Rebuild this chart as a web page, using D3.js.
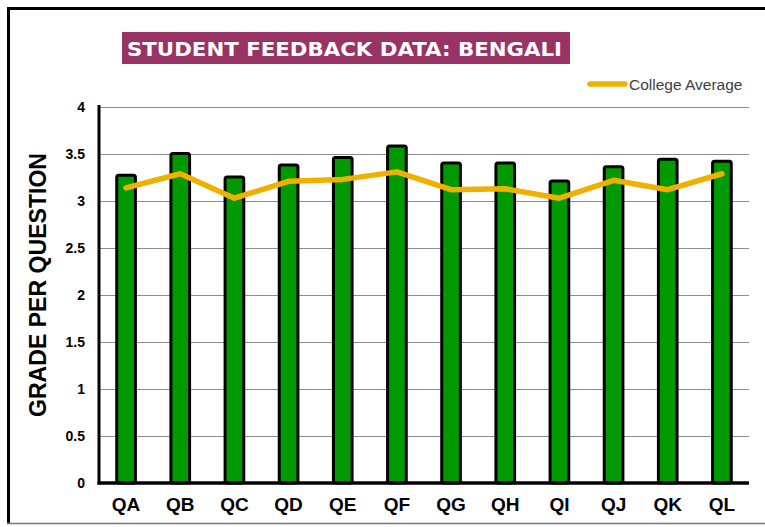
<!DOCTYPE html>
<html><head><meta charset="utf-8">
<script src="https://cdn.jsdelivr.net/npm/d3@7"></script>
<style>body{margin:0;background:#fff}svg{display:block}
.xlab text{font-size:19px;font-weight:bold;font-family:Arial,'Liberation Sans',sans-serif;}</style>
</head><body>
<script>
const categories = ["QA","QB","QC","QD","QE","QF","QG","QH","QI","QJ","QK","QL"];
const bengali = [3.29,3.52,3.27,3.40,3.48,3.60,3.42,3.42,3.23,3.38,3.46,3.44];
const collegeAverage = [3.14,3.29,3.03,3.21,3.23,3.31,3.12,3.13,3.03,3.22,3.12,3.29];
const yTicks = [0,0.5,1,1.5,2,2.5,3,3.5,4];
const yTickLabels = ["0","0.5","1","1.5","2","2.5","3","3.5","4"];
const titleText = "STUDENT FEEDBACK DATA: BENGALI";
const legendLabel = "College Average";
const yAxisTitle = "GRADE PER QUESTION";

const W = 765, H = 527;
const svg = d3.select("body").append("svg").attr("width", W).attr("height", H);
const font = "Arial, 'Liberation Sans', sans-serif";

// frame
svg.append("line").attr("x1",8).attr("x2",W).attr("y1",8.5).attr("y2",8.5).attr("stroke","#000").attr("stroke-width",3);
svg.append("line").attr("x1",8.5).attr("x2",8.5).attr("y1",7).attr("y2",524).attr("stroke","#000").attr("stroke-width",3);
svg.append("line").attr("x1",7).attr("x2",W).attr("y1",523.5).attr("y2",523.5).attr("stroke","#777").attr("stroke-width",1.5);

const pLeft = 99, pRight = 749, pTop = 107, pBottom = 483;
const x = d3.scaleBand().domain(categories).range([pLeft, pRight]).paddingInner(0.6).paddingOuter(0.3);
const y = d3.scaleLinear().domain([0,4]).range([pBottom, pTop]);

// gridlines
svg.append("g").selectAll("line").data(yTicks.filter(d=>d>0)).join("line")
  .attr("x1", pLeft).attr("x2", pRight)
  .attr("y1", d=>Math.round(y(d))+0.5).attr("y2", d=>Math.round(y(d))+0.5)
  .attr("stroke","#8c8c8c").attr("stroke-width",1);

// y axis via d3
const yAxis = d3.axisLeft(y).tickValues(yTicks).tickFormat((d,i)=>yTickLabels[i]).tickSize(0).tickPadding(14);
const yg = svg.append("g").attr("transform",`translate(${pLeft},0)`).call(yAxis);
yg.select(".domain").remove();
yg.selectAll("text").attr("font-family",font).attr("font-weight","bold").attr("font-size",14).attr("fill","#000");

// bars
svg.append("g").selectAll("rect").data(bengali).join("rect")
  .attr("x",(d,i)=>x(categories[i])+1.5)
  .attr("width",x.bandwidth()-3)
  .attr("y",d=>y(d)+1.5)
  .attr("height",d=>pBottom-y(d)-1.5)
  .attr("rx",2)
  .attr("fill","#009900").attr("stroke","#000").attr("stroke-width",3);

// axes lines
svg.append("line").attr("x1",pLeft).attr("x2",pLeft).attr("y1",pTop-2).attr("y2",pBottom+1.5).attr("stroke","#000").attr("stroke-width",3);
svg.append("line").attr("x1",pLeft-1.5).attr("x2",pRight).attr("y1",pBottom).attr("y2",pBottom).attr("stroke","#000").attr("stroke-width",3.5);

// x axis labels
const xAxis = d3.axisBottom(x).tickSize(0).tickPadding(15);
const xg = svg.append("g").attr("class","xlab").attr("transform",`translate(0,${pBottom})`).call(xAxis);
xg.attr("font-size",null).attr("font-family",null);
xg.select(".domain").remove();
xg.selectAll("text").attr("fill","#000");

// line
const line = d3.line().x((d,i)=>x(categories[i])+x.bandwidth()/2).y(d=>y(d));
svg.append("path").datum(collegeAverage).attr("d",line)
  .attr("fill","none").attr("stroke","#F0B000").attr("stroke-width",5.5)
  .attr("stroke-linejoin","round").attr("stroke-linecap","round");

// y axis title
svg.append("text").attr("transform","translate(46,285) rotate(-90)")
  .attr("text-anchor","middle").attr("font-family",font).attr("font-weight","bold")
  .attr("font-size",23).attr("fill","#000").attr("textLength",264).attr("lengthAdjust","spacingAndGlyphs").text(yAxisTitle);

// title
const tg = svg.append("g");
tg.append("rect").attr("fill","#993366").attr("x",122).attr("y",32).attr("width",448).attr("height",32);
tg.append("text").attr("x",127).attr("y",56).attr("font-family","'DejaVu Sans', sans-serif")
  .attr("font-weight","bold").attr("font-size",20).attr("fill","#fff").attr("textLength",435).attr("lengthAdjust","spacingAndGlyphs").text(titleText);

// legend
svg.append("line").attr("x1",590).attr("x2",625).attr("y1",84).attr("y2",84)
  .attr("stroke","#F0B000").attr("stroke-width",5.5).attr("stroke-linecap","round");
svg.append("text").attr("x",629).attr("y",90).attr("font-family",font).attr("font-size",15.5)
  .attr("fill","#404040").text(legendLabel);
</script>
</body></html>
